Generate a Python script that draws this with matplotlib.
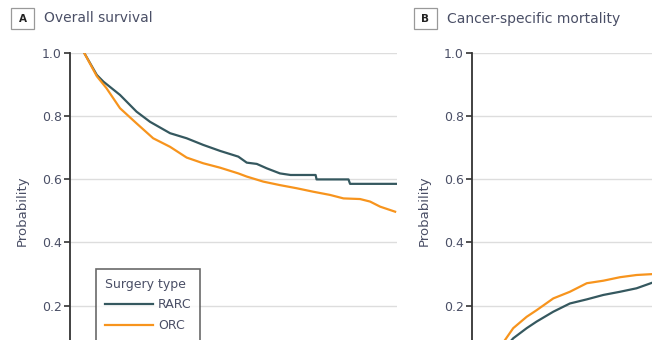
import matplotlib
matplotlib.use("Agg")
import matplotlib.pyplot as plt
import matplotlib.patches as patches

# Overall survival (panel A), time in years
os_rarc_t = [0, 0.41, 0.62, 1.15, 1.68, 2.11, 2.75, 3.28, 3.81, 4.35, 4.93, 5.20, 5.52, 5.84, 6.26,
             6.60, 7.01, 7.40, 7.43, 8.45, 8.50, 10.0]
os_rarc_p = [1.0, 0.929, 0.908, 0.866, 0.813, 0.781, 0.745, 0.729, 0.708, 0.689, 0.671, 0.652, 0.648, 0.634, 0.618,
             0.613, 0.613, 0.613, 0.599, 0.599, 0.585, 0.585]
os_orc_t = [0, 0.41, 0.72, 1.15, 1.68, 2.21, 2.75, 3.28, 3.81, 4.35, 4.93, 5.20, 5.73, 6.26, 6.80,
            7.33, 7.86, 8.29, 8.82, 9.14, 9.46, 9.94]
os_orc_p = [1.0, 0.925, 0.887, 0.824, 0.776, 0.729, 0.702, 0.668, 0.650, 0.636, 0.618, 0.608, 0.592, 0.581, 0.571,
            0.560, 0.550, 0.539, 0.537, 0.529, 0.513, 0.497]

# Cancer-specific mortality (panel B)
csm_rarc_t = [0, 0.87, 1.30, 1.62, 2.15, 2.68, 3.22, 3.75, 4.28, 4.81, 5.35]
csm_rarc_p = [0, 0.097, 0.129, 0.150, 0.181, 0.207, 0.220, 0.234, 0.244, 0.255, 0.274]
csm_orc_t = [0, 0.61, 0.87, 1.30, 1.62, 2.15, 2.68, 3.22, 3.75, 4.28, 4.81, 5.35]
csm_orc_p = [0, 0.092, 0.129, 0.165, 0.186, 0.223, 0.244, 0.271, 0.279, 0.290, 0.297, 0.300]

yticks = [0.2, 0.4, 0.6, 0.8, 1.0]
colors = {"RARC": "#35585f", "ORC": "#f7941d"}

plt.rcParams['font.family'] = ['DejaVu Sans']
TXT = "#4a4f66"

W, H = 652, 340
fig = plt.figure(figsize=(W / 100, H / 100), dpi=100)


def make_axes(left_px):
    # axes reach below (and for B beyond the right of) the visible canvas
    ax = fig.add_axes([left_px / W, -29 / H, 327 / W, 316.5 / H])
    ax.set_xlim(-0.447, 10)
    ax.set_ylim(0, 1.0)
    ax.set_yticks(yticks)
    ax.set_yticklabels(["%.1f" % v for v in yticks])
    ax.set_xticks([])
    for s in ["top", "right", "bottom"]:
        ax.spines[s].set_visible(False)
    ax.spines["left"].set_color("#333333")
    ax.spines["left"].set_linewidth(1.3)
    ax.tick_params(axis="y", length=4, width=1.2, color="#333333", labelsize=9,
                   labelcolor=TXT, pad=2)
    ax.yaxis.grid(True, color="#dddddd", lw=1)
    ax.set_axisbelow(True)
    ax.set_ylabel("Probability", fontsize=9.5, color=TXT, labelpad=9)
    return ax


axA = make_axes(70)
axA.plot(os_rarc_t, os_rarc_p, color=colors["RARC"], lw=1.6, label="RARC")
axA.plot(os_orc_t, os_orc_p, color=colors["ORC"], lw=1.6, label="ORC")
leg = axA.legend(title="Surgery type", loc="upper left", bbox_to_anchor=(0.0795, 0.316),
                 fontsize=9, title_fontsize=9, frameon=True, fancybox=False,
                 handlelength=3.85, handletextpad=0.4, borderpad=0.7, labelspacing=0.62,
                 borderaxespad=0, alignment="left")
leg.get_frame().set_edgecolor("#444444")
leg.get_frame().set_linewidth(1.2)
for t in leg.get_texts():
    t.set_color(TXT)
leg.get_title().set_color(TXT)

axB = make_axes(472)
axB.plot(csm_rarc_t, csm_rarc_p, color=colors["RARC"], lw=1.6)
axB.plot(csm_orc_t, csm_orc_p, color=colors["ORC"], lw=1.6)


def panel_title(x_box, letter, title):
    box = patches.Rectangle((x_box / W, 1 - 29 / H), 23 / W, 21 / H, transform=fig.transFigure,
                            fc="white", ec="#999999", lw=0.9)
    fig.patches.append(box)
    fig.text((x_box + 11.5) / W, 1 - 18.5 / H, letter, ha="center", va="center",
             fontsize=7.5, fontweight="bold", color="#222222")
    fig.text((x_box + 33) / W, 1 - 18.5 / H, title, ha="left", va="center",
             fontsize=10, color=TXT)


panel_title(11, "A", "Overall survival")
panel_title(414, "B", "Cancer-specific mortality")

fig.savefig("out.png", dpi=100)
